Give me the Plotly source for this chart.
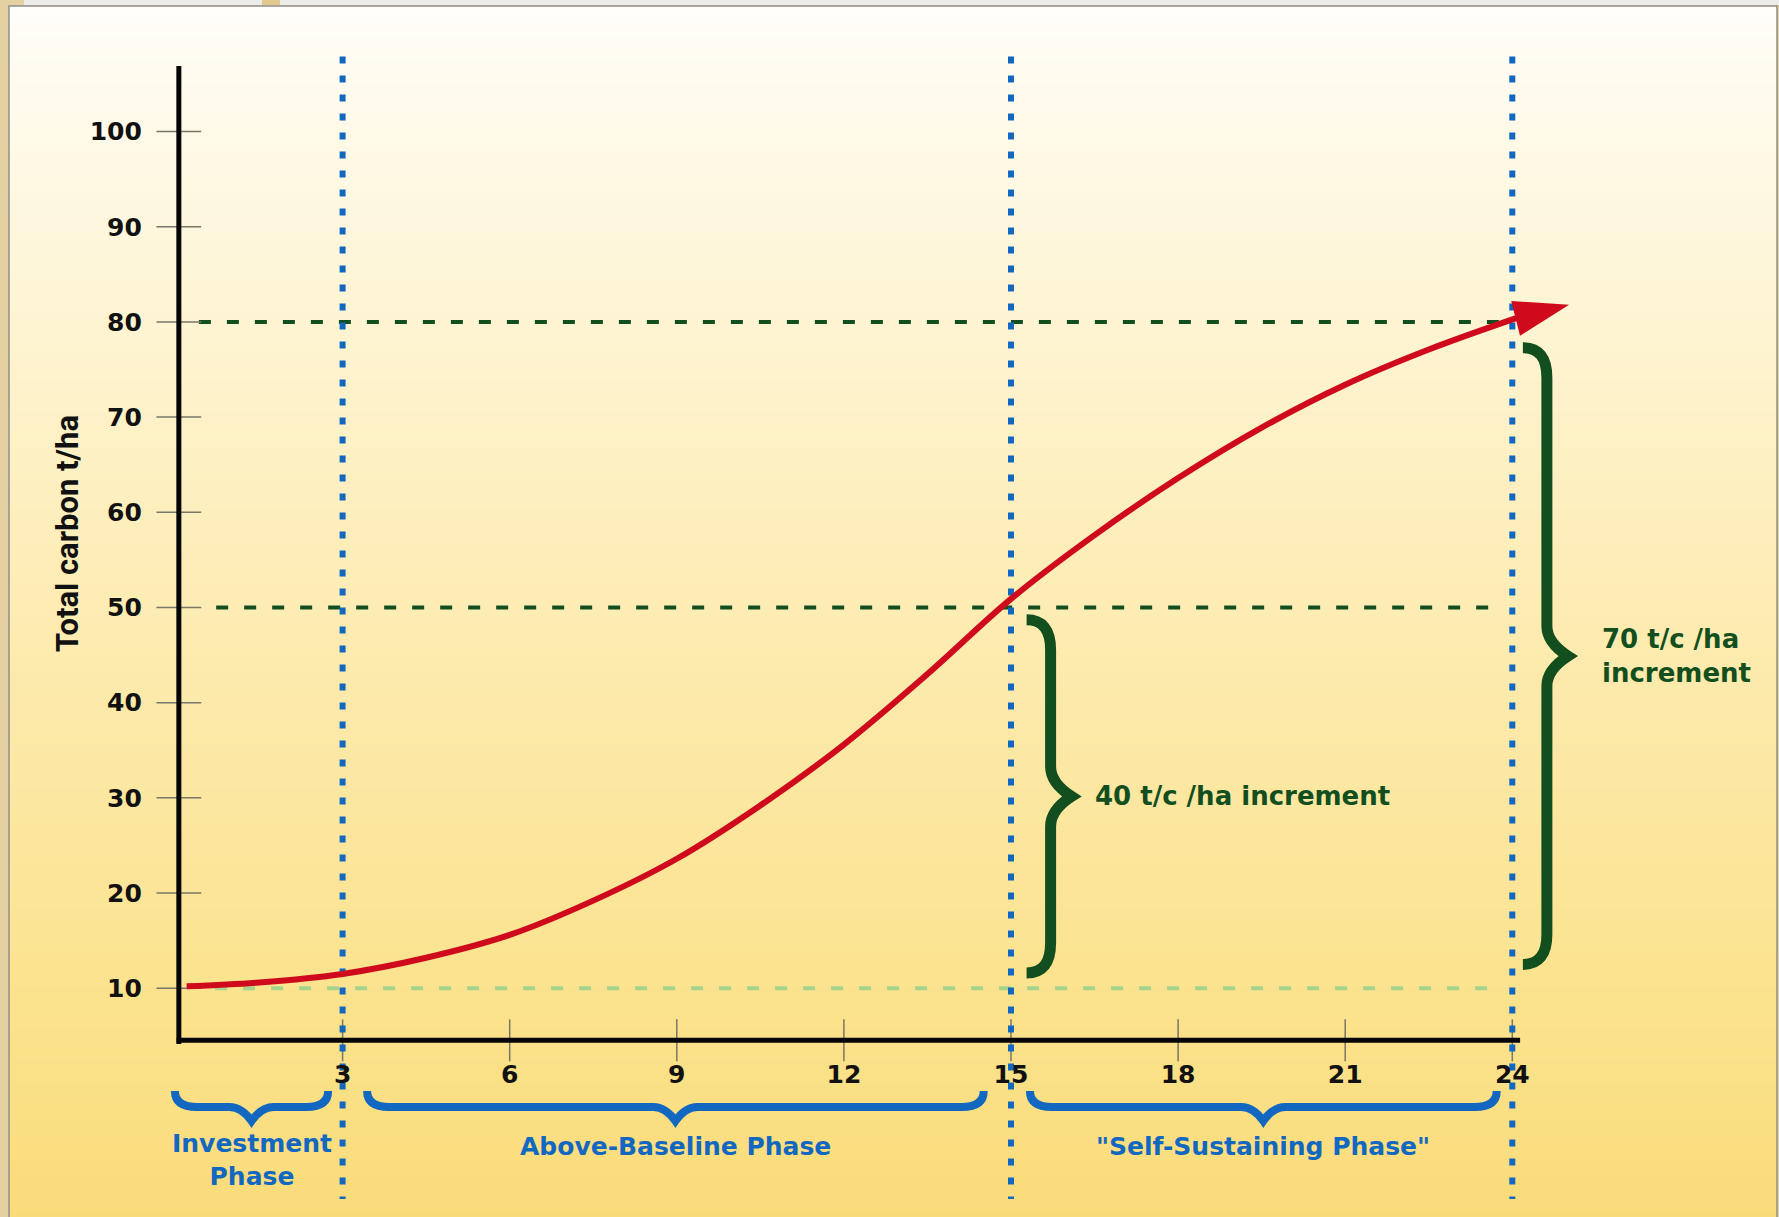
import plotly.graph_objects as go

# ---------------- data ----------------
years = [0.2, 1.5, 3, 4.5, 6, 7.5, 9, 10.5, 12, 13.5, 15, 16.5, 18, 19.5, 21, 22.5, 24.07]
carbon = [10.2, 10.6, 11.5, 13.2, 15.6, 19.2, 23.6, 29.2, 35.6, 43.0, 50.9, 57.6, 63.6, 68.9, 73.4, 77.1, 80.4]
arrow_tip_x = 25.02
arrow_tip_y = 81.8

x_ticks = [3, 6, 9, 12, 15, 18, 21, 24]
x_tick_text = ["3", "6", "9", "12", "15", "18", "21", "24"]
y_ticks = [10, 20, 30, 40, 50, 60, 70, 80, 90, 100]
y_tick_text = ["10", "20", "30", "40", "50", "60", "70", "80", "90", "100"]

phase_bounds = [3, 15, 24]
ref_levels = [80, 50, 10]
ref_starts = [0.42, 0.73, 0.71]
ref_ends = [24.0, 23.75, 23.72]

phase_labels = ["Investment<br>Phase", "Above-Baseline Phase", "\"Self-Sustaining Phase\""]
phase_starts = [-0.01, 3.44, 15.34]
phase_ends = [2.74, 14.51, 23.72]

increment_labels = ["40 t/c /ha increment", "70 t/c /ha<br>increment"]
increment_anchor = [15.28, 24.19]
increment_low = [11.6, 12.5]
increment_high = [48.7, 77.3]

y_title = "Total carbon t/ha"

# ---------------- geometry / style ----------------
W, H = 1779, 1217
PXX = 55.7       # px per x unit
PXY = 9.518      # px per y unit
X0PX = 175.5     # pixel of x = 0
Y10PX = 988.2    # pixel of y = 10
xr = [(0 - X0PX) / PXX, (W - X0PX) / PXX]
yr = [10 + (Y10PX - H) / PXY, 10 + Y10PX / PXY]
x_axis_y = 4.52
y_axis_x = 0.06
y_axis_top = 106.9

def paper_x(v):
    return (v - xr[0]) / (xr[1] - xr[0])

def paper_y(v):
    return (v - yr[0]) / (yr[1] - yr[0])

RED = "#CF0A1C"
BLUE = "#1268C0"
DGREEN = "#134F1E"
LGREEN = "#A6D48C"
TICK = "#77776A"
FONT_B = "DejaVu Sans"

fig = go.Figure()

# horizontal reference lines
for lvl, s, e in zip(ref_levels, ref_starts, ref_ends):
    fig.add_trace(go.Scatter(
        x=[s, e], y=[lvl, lvl], mode="lines",
        line=dict(color=LGREEN if lvl == 10 else DGREEN, width=4, dash="12px,16px"),
        hoverinfo="skip", showlegend=False))

# tick marks (crossing the axes)
fig.add_trace(go.Scatter(
    x=[y_axis_x] * len(y_ticks), y=y_ticks, mode="markers",
    marker=dict(symbol="line-ew", size=32, line=dict(width=1.5, color=TICK)),
    hoverinfo="skip", showlegend=False))
fig.add_trace(go.Scatter(
    x=x_ticks, y=[x_axis_y] * len(x_ticks), mode="markers",
    marker=dict(symbol="line-ns", size=30, line=dict(width=1.5, color=TICK)),
    hoverinfo="skip", showlegend=False))

# axis lines
fig.add_trace(go.Scatter(x=[0.02, 24.14], y=[x_axis_y, x_axis_y], mode="lines",
                         line=dict(color="#050505", width=5), hoverinfo="skip", showlegend=False))
fig.add_trace(go.Scatter(x=[y_axis_x, y_axis_x], y=[4.13, y_axis_top], mode="lines",
                         line=dict(color="#050505", width=5), hoverinfo="skip", showlegend=False))

# blue dotted phase boundaries
for b in phase_bounds:
    fig.add_trace(go.Scatter(
        x=[b, b], y=[107.9, -12.15], mode="lines",
        line=dict(color=BLUE, width=6, dash="7px,12px"),
        hoverinfo="skip", showlegend=False))

# red growth curve
fig.add_trace(go.Scatter(
    x=years, y=carbon, mode="lines",
    line=dict(color=RED, width=6, shape="spline", smoothing=1.0),
    hoverinfo="skip", showlegend=False))
fig.add_trace(go.Scatter(
    x=[years[-1], arrow_tip_x], y=[carbon[-1], arrow_tip_y], mode="markers",
    marker=dict(symbol=["circle", "arrow"], size=[0, 58], angleref="previous",
                color=RED, opacity=1, line=dict(width=0)),
    opacity=1, hoverinfo="skip", showlegend=False))

shapes = []

# background gradient
stops = [(0, (255, 254, 250)), (100, (255, 250, 236)), (300, (254, 245, 213)),
         (560, (253, 237, 184)), (1010, (251, 226, 140)), (1217, (249, 220, 122))]

def grad(p):
    for (p0, c0), (p1, c1) in zip(stops[:-1], stops[1:]):
        if p0 <= p <= p1:
            t = (p - p0) / (p1 - p0)
            return tuple(round(a + (b - a) * t) for a, b in zip(c0, c1))
    return stops[-1][1]

NB = 200
for i in range(NB):
    p0 = 6 + (H - 6) * i / NB
    p1 = 6 + (H - 6) * (i + 1) / NB + 0.8
    c = grad((p0 + p1) / 2)
    shapes.append(dict(type="rect", xref="paper", yref="paper", layer="below",
                       x0=9 / W, x1=1777 / W, y0=1 - min(p1, H) / H, y1=1 - p0 / H,
                       fillcolor=f"rgb{c}", line=dict(width=0)))
# top strip and frame
shapes.append(dict(type="rect", xref="paper", yref="paper", layer="below",
                   x0=24 / W, x1=1, y0=1 - 5 / H, y1=1, fillcolor="#ECECEA", line=dict(width=0)))
shapes.append(dict(type="rect", xref="paper", yref="paper", layer="below",
                   x0=262 / W, x1=280 / W, y0=1 - 5 / H, y1=1, fillcolor="#E0C88E", line=dict(width=0)))
shapes.append(dict(type="rect", xref="paper", yref="paper", layer="below",
                   x0=9 / W, x1=1777 / W, y0=-0.01, y1=1 - 6 / H, fillcolor="rgba(0,0,0,0)",
                   line=dict(width=1.5, color="#8E8E8A")))

kx = 1 / PXX
ky = 1 / PXY

def vbrace(xa, y0, y1, arm_px=24, depth_px=45, r_px=30):
    xs = xa + arm_px * kx
    xt = xa + depth_px * kx
    ym = (y0 + y1) / 2
    r = r_px * ky
    return (f"M{xa},{y1} Q{xs},{y1} {xs},{y1 - r} L{xs},{ym + r} "
            f"Q{xs},{ym + 0.45 * r} {xt},{ym} Q{xs},{ym - 0.45 * r} {xs},{ym - r} "
            f"L{xs},{y0 + r} Q{xs},{y0} {xa},{y0}")

def hbrace(x0, x1, ya, drop_px=16, tip_px=30, r_px=22):
    ys = ya - drop_px * ky
    yt = ya - tip_px * ky
    xm = (x0 + x1) / 2
    r = r_px * kx
    return (f"M{x0},{ya} Q{x0},{ys} {x0 + r},{ys} L{xm - r},{ys} "
            f"Q{xm - 0.45 * r},{ys} {xm},{yt} Q{xm + 0.45 * r},{ys} {xm + r},{ys} "
            f"L{x1 - r},{ys} Q{x1},{ys} {x1},{ya}")

for xa, lo, hi in zip(increment_anchor, increment_low, increment_high):
    shapes.append(dict(type="path", xref="x", yref="y", layer="above",
                       path=vbrace(xa, lo, hi), line=dict(color=DGREEN, width=11)))

brace_top = -0.8
for s, e in zip(phase_starts, phase_ends):
    shapes.append(dict(type="path", xref="x", yref="y", layer="above",
                       path=hbrace(s, e, brace_top), line=dict(color=BLUE, width=8)))

annotations = []
label_y = [-8.05, -6.58, -6.58]
for lab, s, e, ly in zip(phase_labels, phase_starts, phase_ends, label_y):
    annotations.append(dict(x=(s + e) / 2, y=ly, xref="x", yref="y", text=lab, showarrow=False,
                            xanchor="center", yanchor="middle", align="center",
                            font=dict(family=FONT_B, size=25, color=BLUE, weight="bold")))

annotations.append(dict(x=16.47, y=(increment_low[0] + increment_high[0]) / 2, xref="x", yref="y",
                        text=increment_labels[0], showarrow=False, xanchor="left", yanchor="middle",
                        font=dict(family=FONT_B, size=26, color=DGREEN, weight="bold")))
annotations.append(dict(x=25.57, y=(increment_low[1] + increment_high[1]) / 2, xref="x", yref="y",
                        text=increment_labels[1], showarrow=False, xanchor="left", yanchor="middle",
                        align="left",
                        font=dict(family=FONT_B, size=26, color=DGREEN, weight="bold")))
annotations.append(dict(x=-1.95, y=57.8, xref="x", yref="y", text=y_title, showarrow=False,
                        textangle=-90, xanchor="center", yanchor="middle",
                        font=dict(family="Liberation Sans Narrow, Roboto", size=31, color="#111111",
                                  weight="bold")))

fig.update_layout(
    width=W, height=H,
    margin=dict(l=0, r=0, t=0, b=0, pad=0),
    paper_bgcolor="#E4D0A0",
    plot_bgcolor="rgba(0,0,0,0)",
    shapes=shapes,
    annotations=annotations,
    showlegend=False,
    xaxis=dict(range=xr, showgrid=False, zeroline=False, showline=False,
               tickvals=x_ticks, ticktext=x_tick_text, ticks="outside", ticklen=12,
               tickcolor="rgba(0,0,0,0)", anchor="free", position=paper_y(x_axis_y),
               tickfont=dict(family=FONT_B, size=25, color="#111111", weight="bold"),
               fixedrange=True, automargin=False),
    yaxis=dict(range=yr, showgrid=False, zeroline=False, showline=False,
               tickvals=y_ticks, ticktext=y_tick_text, ticks="outside", ticklen=32,
               tickcolor="rgba(0,0,0,0)", anchor="free", position=paper_x(y_axis_x),
               tickfont=dict(family=FONT_B, size=25, color="#111111", weight="bold"),
               fixedrange=True, automargin=False),
)

fig.write_html("out.html")
